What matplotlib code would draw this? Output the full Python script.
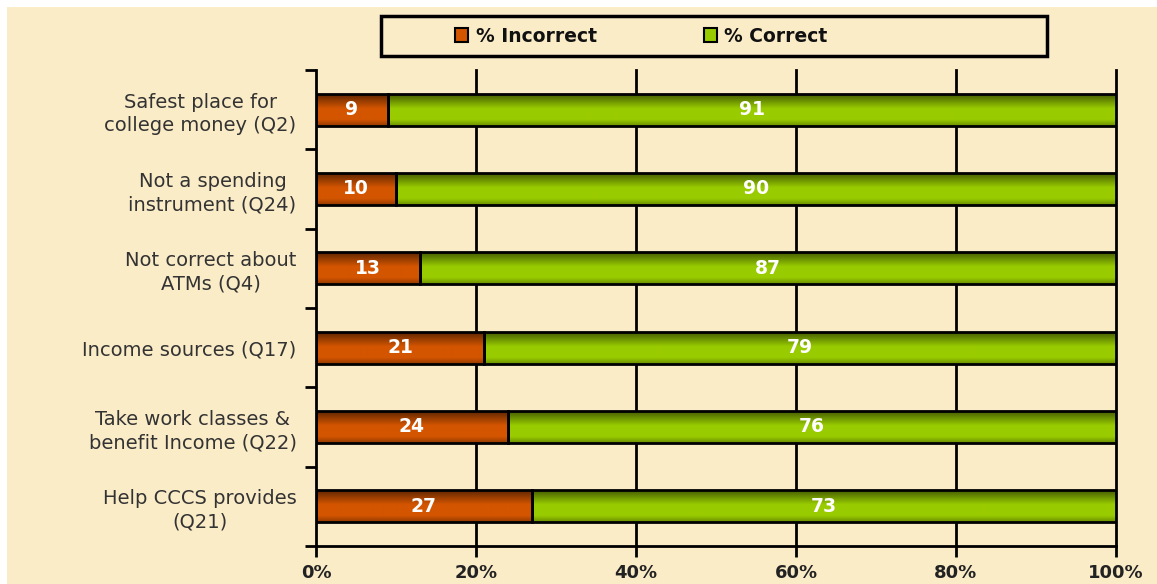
import numpy as np
import matplotlib.pyplot as plt
from matplotlib.patches import Patch, Rectangle
from matplotlib.colors import to_rgb

categories = [
    "Safest place for\ncollege money (Q2)",
    "Not a spending\ninstrument (Q24)",
    "Not correct about\nATMs (Q4)",
    "Income sources (Q17)",
    "Take work classes &\nbenefit Income (Q22)",
    "Help CCCS provides\n(Q21)",
]
incorrect = [9, 10, 13, 21, 24, 27]
correct = [91, 90, 87, 79, 76, 73]
series_names = ["% Incorrect", "% Correct"]
xticks = [0, 20, 40, 60, 80, 100]

bg = "#FBECC8"
c_inc = "#D45500"
c_cor = "#99CC00"


def shade_bar(ax, bar, color):
    # vertical gradient: dark top edge, bright middle, a bit dark at the bottom
    t = np.linspace(0, 1, 64)
    dark = np.clip(1 - t / 0.45, 0, 1) * 0.55 + np.clip((t - 0.8) / 0.2, 0, 1) * 0.3
    base = np.array(to_rgb(color))
    img = base[None, :] * (1 - dark[:, None])
    img = np.repeat(img[:, None, :], 2, axis=1)
    x0, y0 = bar.get_x(), bar.get_y()
    w, h = bar.get_width(), bar.get_height()
    im = ax.imshow(img, extent=(x0, x0 + w, y0 + h, y0), aspect="auto",
                   interpolation="bilinear", zorder=2, origin="upper")
    im.set_clip_path(bar)


fig = plt.figure(figsize=(11.57, 5.84), dpi=100, facecolor="white")
fig.patches.append(Rectangle((7 / 1157, 0), 1, 1 - 7 / 584, transform=fig.transFigure,
                             facecolor=bg, edgecolor="none", zorder=-1))

ax = fig.add_axes([316 / 1157, 1 - 546 / 584, 800 / 1157, 476 / 584])
ax.set_facecolor(bg)

n = len(categories)
ypos = np.arange(n)
h = 0.4

bars_inc = ax.barh(ypos, incorrect, height=h, color=c_inc, edgecolor="black",
                   linewidth=2, zorder=3)
bars_cor = ax.barh(ypos, correct, left=incorrect, height=h, color=c_cor,
                   edgecolor="black", linewidth=2, zorder=3)
for b in bars_inc:
    b.set_facecolor("none")
    shade_bar(ax, b, c_inc)
for b in bars_cor:
    b.set_facecolor("none")
    shade_bar(ax, b, c_cor)

for i in range(n):
    ax.text(incorrect[i] / 2, ypos[i], str(incorrect[i]), ha="center", va="center",
            color="white", fontsize=13.5, fontweight="bold", zorder=4)
    ax.text(incorrect[i] + correct[i] / 2, ypos[i], str(correct[i]), ha="center",
            va="center", color="white", fontsize=13.5, fontweight="bold", zorder=4)

ax.set_xlim(0, 100)
ax.set_ylim(n - 0.5, -0.5)

ax.set_xticks(xticks)
ax.set_xticklabels([f"{v}%" for v in xticks], fontsize=13, fontweight="bold",
                   color="#222222")
ax.tick_params(axis="x", direction="out", length=8, width=2, pad=5)
for v in xticks[1:]:
    ax.axvline(v, color="black", linewidth=2, zorder=1, clip_on=False)

ax.set_yticks(np.arange(n + 1) - 0.5)
ax.set_yticklabels([])
ax.set_yticks(ypos, minor=True)
ax.set_yticklabels(categories, minor=True, fontsize=14, color="#333333",
                   multialignment="center", linespacing=1.3)
ax.tick_params(axis="y", which="major", direction="out", length=8, width=2)
ax.tick_params(axis="y", which="minor", length=0, pad=14)

for s in ["top", "right"]:
    ax.spines[s].set_visible(False)
for s in ["left", "bottom"]:
    ax.spines[s].set_linewidth(2)

handles = [Patch(facecolor=c_inc, edgecolor="black", linewidth=1.5),
           Patch(facecolor=c_cor, edgecolor="black", linewidth=1.5)]
leg = fig.legend(handles, series_names, loc="center left", ncol=2,
                 bbox_to_anchor=(455 / 1157, 1 - 36 / 584),
                 frameon=False, handlelength=0.7, handleheight=0.7,
                 handletextpad=0.4, columnspacing=5.7, borderpad=0,
                 borderaxespad=0, prop={"size": 13.5, "weight": "bold"})
for t in leg.get_texts():
    t.set_color("#111111")
fig.patches.append(Rectangle((381 / 1157, 1 - 56 / 584), 666 / 1157, 40 / 584,
                             transform=fig.transFigure, facecolor="none",
                             edgecolor="black", linewidth=2.5, zorder=5))

fig.savefig("out.png", dpi=100, facecolor=fig.get_facecolor())
